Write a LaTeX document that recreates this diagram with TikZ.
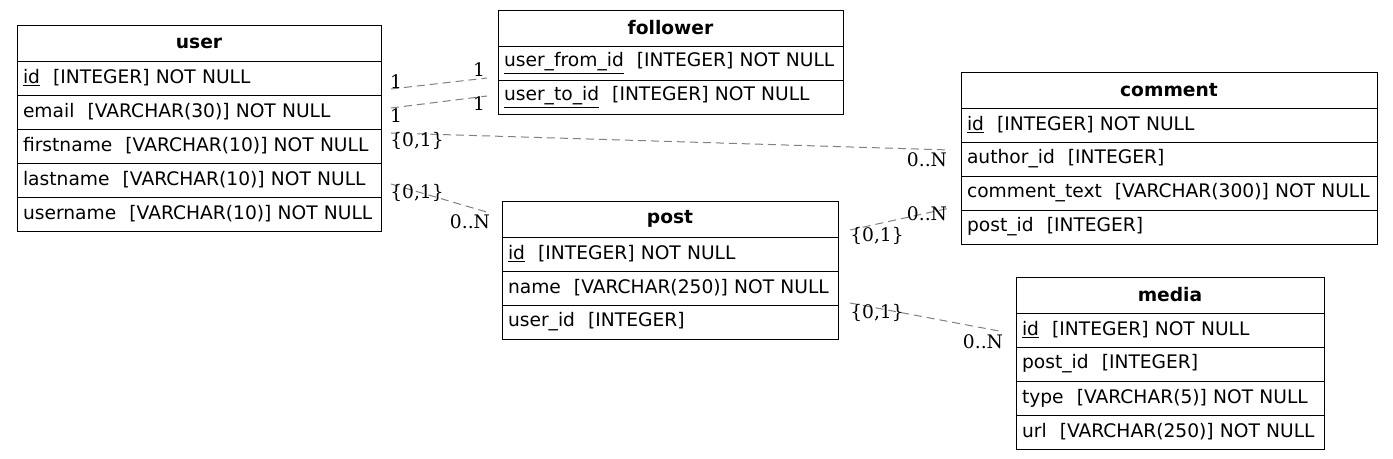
\documentclass[tikz,border=0pt]{standalone}
\usepackage{fontspec}
\setmainfont{DejaVu Sans}
\newfontfamily\cardfont{DejaVu Serif}
\usetikzlibrary{positioning, calc}
\newcommand{\pk}[1]{\underline{#1}}
\newcommand{\sep}{\hspace{0.7em}}
\tikzset{
every node/.style={font=\fontsize{14}{17}\selectfont}, % table text
tabhead/.style={draw, outer sep=0pt, inner sep=0pt, minimum width=#1, minimum height=27pt, font=\fontsize{14}{17}\selectfont\bfseries}, % table name
tabrow/.style={draw, outer sep=0pt, inner xsep=4.5pt, inner ysep=0pt, text width=#1, minimum height=25.5pt, align=left}, % one column of a table
rel/.style={draw=gray, dash pattern=on 6pt off 3.75pt, line width=0.75pt}, % relation between tables
card/.style={inner sep=0pt, font=\cardfont\fontsize{14}{17}\selectfont}, % cardinality
}

\begin{document}
\begin{tikzpicture}[x=0.75pt, y=-0.75pt]
\useasboundingbox (0,0) rectangle (1393,459);
% user
\node[tabhead=273pt, anchor=north west] (user) at (17,25) {user};
\node[tabrow=264pt, below=0pt of user] (uid) {\pk{id}\sep[INTEGER] NOT NULL};
\node[tabrow=264pt, below=0pt of uid] (uemail) {email\sep[VARCHAR(30)] NOT NULL};
\node[tabrow=264pt, below=0pt of uemail] (ufirst) {firstname\sep[VARCHAR(10)] NOT NULL};
\node[tabrow=264pt, below=0pt of ufirst] (ulast) {lastname\sep[VARCHAR(10)] NOT NULL};
\node[tabrow=264pt, below=0pt of ulast] (uname) {username\sep[VARCHAR(10)] NOT NULL};
% follower
\node[tabhead=258.75pt, anchor=north west] (follower) at (498,10) {follower};
\node[tabrow=249.75pt, below=0pt of follower] (ffrom) {\pk{user\_from\_id}\sep[INTEGER] NOT NULL};
\node[tabrow=249.75pt, below=0pt of ffrom] (fto) {\pk{user\_to\_id}\sep[INTEGER] NOT NULL};
% post
\node[tabhead=252pt, anchor=north west] (post) at (502,201) {post};
\node[tabrow=243pt, below=0pt of post] (pid) {\pk{id}\sep[INTEGER] NOT NULL};
\node[tabrow=243pt, below=0pt of pid] (pname) {name\sep[VARCHAR(250)] NOT NULL};
\node[tabrow=243pt, below=0pt of pname] (puser) {user\_id\sep[INTEGER]};
% comment
\node[tabhead=312pt, anchor=north west] (comment) at (961,72) {comment};
\node[tabrow=303pt, below=0pt of comment] (cid) {\pk{id}\sep[INTEGER] NOT NULL};
\node[tabrow=303pt, below=0pt of cid] (cauthor) {author\_id\sep[INTEGER]};
\node[tabrow=303pt, below=0pt of cauthor] (ctext) {comment\_text\sep[VARCHAR(300)] NOT NULL};
\node[tabrow=303pt, below=0pt of ctext] (cpost) {post\_id\sep[INTEGER]};
% media
\node[tabhead=231pt, anchor=north west] (media) at (1016,277) {media};
\node[tabrow=222pt, below=0pt of media] (mid) {\pk{id}\sep[INTEGER] NOT NULL};
\node[tabrow=222pt, below=0pt of mid] (mpost) {post\_id\sep[INTEGER]};
\node[tabrow=222pt, below=0pt of mpost] (mtype) {type\sep[VARCHAR(5)] NOT NULL};
\node[tabrow=222pt, below=0pt of mtype] (murl) {url\sep[VARCHAR(250)] NOT NULL};
% relations
\draw[rel] ($(uid.east)+(10,11)$) -- node[card, at start, shift={(5,-7)}] {1} node[card, at end, shift={(-8,-8)}] {1} ($(ffrom.west)+(-11,15)$);
\draw[rel] ($(uemail.east)+(10,-4)$) -- node[card, at start, shift={(5,8)}] {1} node[card, at end, shift={(-8,8)}] {1} ($(fto.west)+(-11,-1)$);
\draw[rel] ($(ufirst.east)+(10,-13)$) -- node[card, at start, shift={(26,8)}] {\{0,1\}} node[card, at end, shift={(-23,10)}] {0..N} ($(cauthor.west)+(-11,-9)$);
\draw[rel] ($(ulast.east)+(10,4)$) -- node[card, at start, shift={(26,9)}] {\{0,1\}} node[card, at end, shift={(-20,9)}] {0..N} ($(post.west)+(-12,-6)$);
\draw[rel] ($(post.east)+(12,11)$) -- node[card, at start, shift={(27,6)}] {\{0,1\}} node[card, at end, shift={(-23,6)}] {0..N} ($(cpost.west)+(-11,-19)$);
\draw[rel] ($(pname.east)+(12,15)$) -- node[card, at start, shift={(27,10)}] {\{0,1\}} node[card, at end, shift={(-16,11)}] {0..N} ($(mid.west)+(-17,1)$);
\end{tikzpicture}
\end{document}
